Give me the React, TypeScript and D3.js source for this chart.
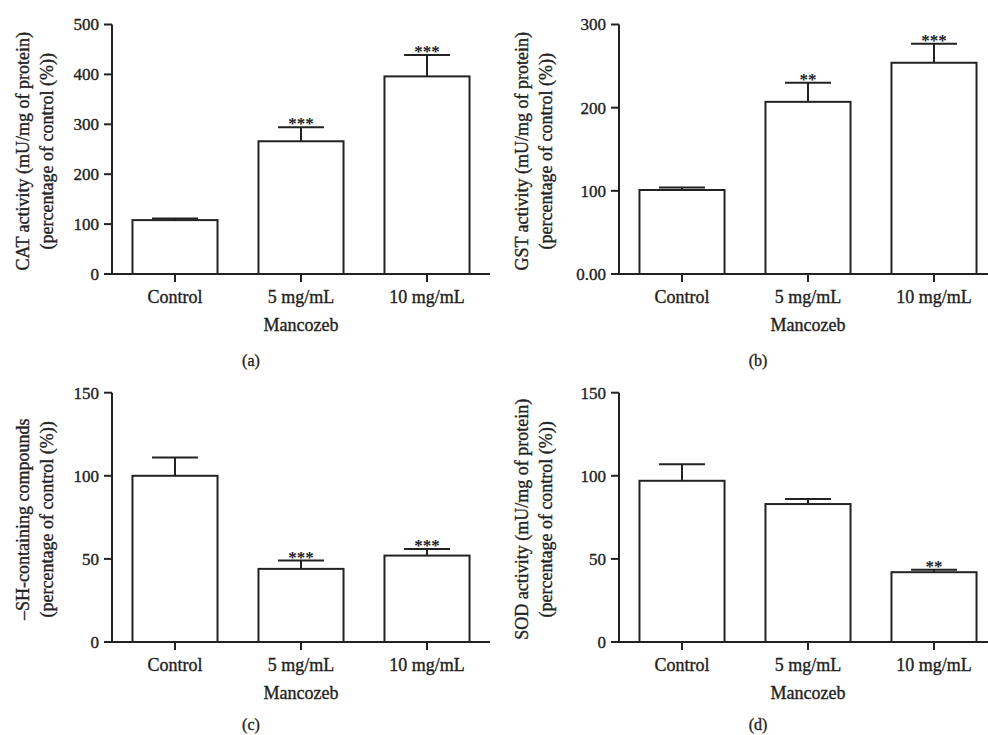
import React from "react";
import * as d3 from "d3";

const categories = ["Control", "5 mg/mL", "10 mg/mL"];

// (a) CAT
const catMeans = [108, 266, 396];
const catErrors = [3, 28, 43];
const catStars = ["", "***", "***"];
const catTicks = [0, 100, 200, 300, 400, 500];

// (b) GST
const gstMeans = [101, 207, 254];
const gstErrors = [3, 23, 23];
const gstStars = ["", "**", "***"];
const gstTicks = [0, 100, 200, 300];

// (c) -SH
const shMeans = [100, 44, 52];
const shErrors = [11, 5, 4];
const shStars = ["", "***", "***"];
const shTicks = [0, 50, 100, 150];

// (d) SOD
const sodMeans = [97, 83, 42];
const sodErrors = [10, 3, 1.5];
const sodStars = ["", "", "**"];
const sodTicks = [0, 50, 100, 150];

const FONT = "'Liberation Serif', 'Times New Roman', serif";
const INK = "#222";

type PanelProps = {
  x0: number;
  x1: number;
  yTop: number;
  yZero: number;
  max: number;
  means: number[];
  errors: number[];
  stars: string[];
  ticks: number[];
  tickFormat: (d: number) => string;
  label: string[];
  labelX: number;
  caption: string;
  captionY: number;
};

const Panel = ({ x0, x1, yTop, yZero, max, means, errors, stars, ticks, tickFormat, label, labelX, caption, captionY }: PanelProps) => {
  const x = d3.scaleBand().domain(categories).range([x0, x1]).paddingInner(0.325).paddingOuter(0.1625);
  const y = d3.scaleLinear().domain([0, max]).range([yZero, yTop]);
  const bw = x.bandwidth();
  const cap = bw * 0.27;
  const midY = (yTop + yZero) / 2;
  const centre = (x(categories[1]) as number) + bw / 2;
  const txt = { fill: INK, stroke: INK, strokeWidth: 0.35 };

  return (
    <g>
      {/* bars */}
      {categories.map((c, i) => {
        const cx = (x(c) as number) + bw / 2;
        const top = y(means[i]);
        const errTop = y(means[i] + errors[i]);
        return (
          <g key={c}>
            <rect x={x(c)} y={top} width={bw} height={yZero - top} fill="#fff" stroke={INK} strokeWidth={2} />
            <line x1={cx} x2={cx} y1={top} y2={errTop} stroke={INK} strokeWidth={2} />
            <line x1={cx - cap} x2={cx + cap} y1={errTop} y2={errTop} stroke={INK} strokeWidth={2} />
            {stars[i] && (
              <text x={cx} y={errTop + 2} textAnchor="middle" fontSize={17} fontWeight="bold" fill={INK}>
                {stars[i]}
              </text>
            )}
          </g>
        );
      })}

      {/* y axis */}
      <line x1={x0} x2={x0} y1={yTop} y2={yZero} stroke={INK} strokeWidth={2} />
      {ticks.map((t) => (
        <g key={t}>
          <line x1={x0 - 8} x2={x0} y1={y(t)} y2={y(t)} stroke={INK} strokeWidth={2} />
          <text x={x0 - 13} y={y(t)} dy="0.35em" textAnchor="end" fontSize={17} {...txt}>
            {tickFormat(t)}
          </text>
        </g>
      ))}

      {/* x axis */}
      <line x1={x0 - 8} x2={x1} y1={yZero} y2={yZero} stroke={INK} strokeWidth={2} />
      {categories.map((c) => {
        const cx = (x(c) as number) + bw / 2;
        return (
          <g key={c}>
            <line x1={cx} x2={cx} y1={yZero} y2={yZero + 8} stroke={INK} strokeWidth={2} />
            <text x={cx} y={yZero + 29} textAnchor="middle" fontSize={18} {...txt}>
              {c}
            </text>
          </g>
        );
      })}
      <text x={centre} y={yZero + 57} textAnchor="middle" fontSize={18} {...txt}>
        Mancozeb
      </text>

      {/* y label */}
      <text transform={`translate(${labelX},${midY + 2}) rotate(-90)`} textAnchor="middle" fontSize={18} {...txt}>
        <tspan x={0} dy={0}>{label[0]}</tspan>
        <tspan x={0} dy={24}>{label[1]}</tspan>
      </text>

      <text x={centre - 50} y={captionY} textAnchor="middle" fontSize={16} {...txt}>
        {caption}
      </text>
    </g>
  );
};

export default function App() {
  const fmt = (d: number) => String(d);
  return (
    <svg width={988} height={735} style={{ position: "absolute", left: 0, top: 0, fontFamily: FONT }}>
      <rect width={988} height={735} fill="#fff" />
      <Panel x0={112} x1={490} yTop={24.5} yZero={274} max={500} means={catMeans} errors={catErrors} stars={catStars}
        ticks={catTicks} tickFormat={fmt} label={["CAT activity (mU/mg of protein)", "(percentage of control (%))"]}
        labelX={29} caption="(a)" captionY={366} />
      <Panel x0={619} x1={997} yTop={24.5} yZero={274} max={300} means={gstMeans} errors={gstErrors} stars={gstStars}
        ticks={gstTicks} tickFormat={(d) => (d === 0 ? "0.00" : String(d))}
        label={["GST activity (mU/mg of protein)", "(percentage of control (%))"]}
        labelX={528} caption="(b)" captionY={366} />
      <Panel x0={112} x1={490} yTop={392.7} yZero={642} max={150} means={shMeans} errors={shErrors} stars={shStars}
        ticks={shTicks} tickFormat={fmt} label={["\u2013SH-containing compounds", "(percentage of control (%))"]}
        labelX={29} caption="(c)" captionY={730} />
      <Panel x0={619} x1={997} yTop={392.7} yZero={642} max={150} means={sodMeans} errors={sodErrors} stars={sodStars}
        ticks={sodTicks} tickFormat={fmt} label={["SOD activity (mU/mg of protein)", "(percentage of control (%))"]}
        labelX={528} caption="(d)" captionY={730} />
    </svg>
  );
}
